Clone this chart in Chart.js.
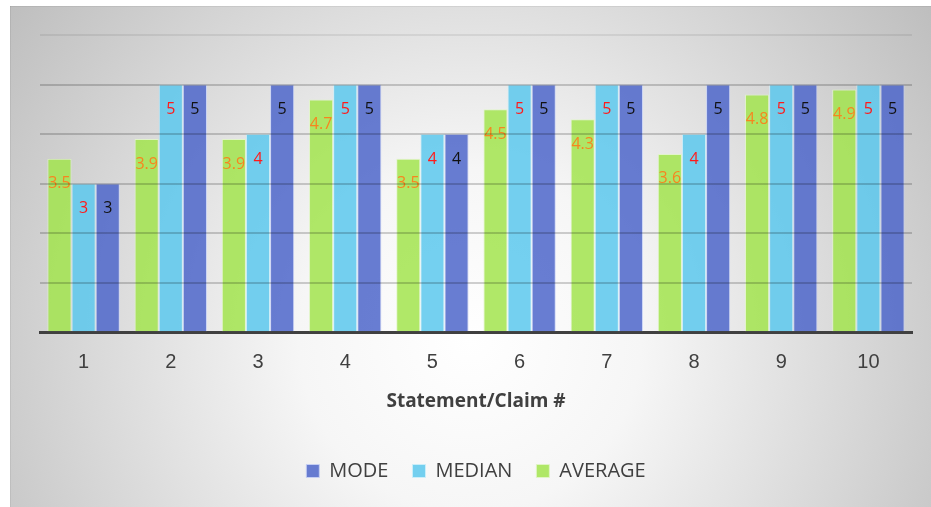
<!DOCTYPE html>
<html>
<head>
<meta charset="utf-8">
<style>
  html, body { margin: 0; padding: 0; background: #fff; }
  #wrap { width: 931px; height: 507px; }
</style>
<script src="https://cdn.jsdelivr.net/npm/chart.js@4.4.1/dist/chart.umd.min.js"></script>
</head>
<body>
<div id="wrap"><canvas id="chart" width="931" height="507"></canvas></div>
<script>
// Survey results per statement
const statements = ["1", "2", "3", "4", "5", "6", "7", "8", "9", "10"];
const averageValues = [3.5, 3.9, 3.9, 4.7, 3.5, 4.5, 4.3, 3.6, 4.8, 4.9];
const medianValues = [3, 5, 4, 5, 4, 5, 5, 4, 5, 5];
const modeValues = [3, 5, 5, 5, 4, 5, 5, 5, 5, 5];

const labelColors = ["#f7851f", "#ff1a1a", "#111111"];

// Gray panel with a soft radial light in the middle
const panelBackground = {
    id: "panelBackground",
    beforeDraw(chart) {
        const c = chart.ctx;
        c.save();
        c.fillStyle = "#ffffff";
        c.fillRect(0, 0, chart.width, chart.height);
        const g = c.createRadialGradient(470, 340, 0, 470, 340, 570);
        g.addColorStop(0, "#ffffff");
        g.addColorStop(0.3, "#f6f6f6");
        g.addColorStop(1, "#bebebe");
        c.fillStyle = g;
        c.fillRect(10, 6, chart.width - 10, chart.height - 6);
        c.fillStyle = "rgba(0,0,0,0.06)";
        c.fillRect(10, 6, chart.width - 10, 1);
        c.fillRect(10, 6, 1, chart.height - 6);
        c.restore();
    }
};

// Value written near the top of each bar
const barValues = {
    id: "barValues",
    afterDatasetsDraw(chart) {
        const c = chart.ctx;
        c.save();
        c.font = "16px 'Open Sans', sans-serif";
        c.textAlign = "center";
        c.textBaseline = "middle";
        chart.data.datasets.forEach((ds, i) => {
            chart.getDatasetMeta(i).data.forEach((bar, j) => {
                c.fillStyle = labelColors[i];
                c.fillText(String(ds.data[j]), bar.x, bar.y + 25);
            });
        });
        c.restore();
    }
};

const ctx = document.getElementById("chart").getContext("2d");
const statsChart = new Chart(ctx, {
    type: "bar",
    data: {
        labels: statements,
        datasets: [
            {
                label: "AVERAGE",
                data: averageValues,
                backgroundColor: "rgba(162, 228, 78, 0.85)",
                borderColor: "rgba(225, 245, 200, 0.9)",
                borderWidth: 1
            },
            {
                label: "MEDIAN",
                data: medianValues,
                backgroundColor: "rgba(92, 200, 237, 0.85)",
                borderColor: "rgba(205, 238, 250, 0.9)",
                borderWidth: 1
            },
            {
                label: "MODE",
                data: modeValues,
                backgroundColor: "rgba(78, 102, 202, 0.85)",
                borderColor: "rgba(200, 210, 245, 0.9)",
                borderWidth: 1
            }
        ]
    },
    options: {
        responsive: false,
        animation: false,
        layout: { padding: { left: 40, right: 19, top: 35, bottom: 16 } },
        datasets: { bar: { categoryPercentage: 0.83, barPercentage: 1 } },
        plugins: {
            legend: {
                position: "bottom",
                reverse: true,
                labels: {
                    boxWidth: 13,
                    boxHeight: 13,
                    padding: 24,
                    color: "#404040",
                    font: { family: "'Open Sans', sans-serif", size: 20 }
                }
            },
            tooltip: { enabled: false }
        },
        scales: {
            x: {
                grid: { display: false },
                border: { color: "#404040", width: 3 },
                ticks: {
                    color: "#404040",
                    padding: 10,
                    font: { family: "'Liberation Sans', Arial, sans-serif", size: 20 }
                },
                title: {
                    display: true,
                    text: "Statement/Claim #",
                    color: "#404040",
                    padding: { top: 6, bottom: 24 },
                    font: { family: "'Open Sans', sans-serif", size: 19, weight: "bold" }
                }
            },
            y: {
                min: 0,
                max: 6,
                display: true,
                ticks: { display: false, stepSize: 1 },
                border: { display: false },
                grid: {
                    z: 1,
                    drawTicks: false,
                    lineWidth: 2,
                    color: (c) => c.tick.value === 0 ? "rgba(0,0,0,0)"
                        : c.tick.value === 6 ? "rgba(0,0,0,0.07)" : "rgba(0,0,0,0.18)"
                }
            }
        }
    },
    plugins: [panelBackground, barValues]
});
</script>
</body>
</html>
